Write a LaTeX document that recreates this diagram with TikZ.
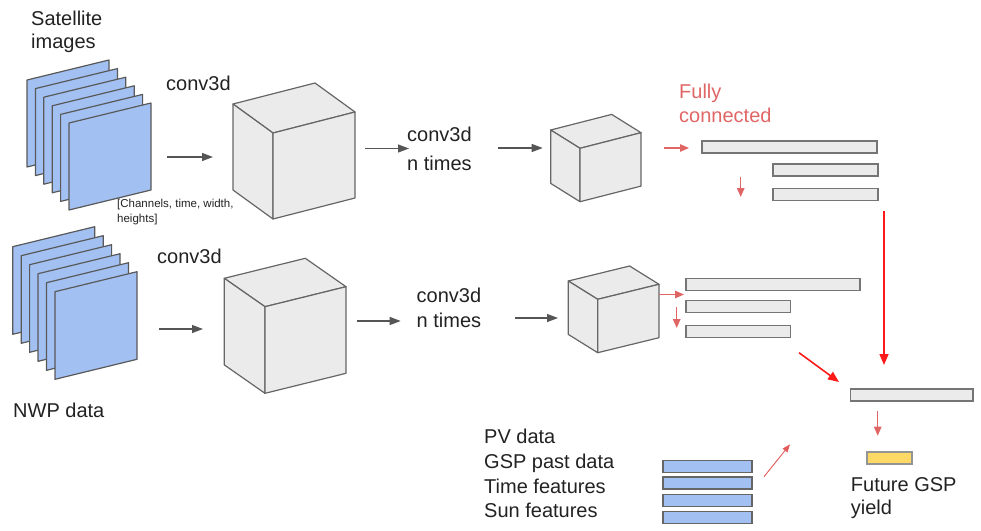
\documentclass[tikz,border=0pt]{standalone}
\usepackage{fontspec}
\setmainfont{Liberation Sans}
\usetikzlibrary{arrows.meta}
\definecolor{panelblue}{HTML}{A2C0F2}
\definecolor{edgegray}{HTML}{595959}
\definecolor{cubefill}{HTML}{EBEBEB}
\definecolor{cubeedge}{HTML}{666666}
\definecolor{fcred}{HTML}{E06666}
\definecolor{bigred}{HTML}{FF1A1A}
\definecolor{gspyellow}{HTML}{FFD966}
\definecolor{arrowgray}{HTML}{555555}
\definecolor{txt}{HTML}{222222}
\tikzset{
  panel/.style={fill=panelblue, draw=edgegray, line width=1.2pt, line join=round},
  cubeface/.style={fill=cubefill, draw=cubeedge, line width=1.2pt, line join=round},
  bar/.style={rectangle, fill=cubefill, draw=cubeedge!90, line width=1.4pt, inner sep=0, minimum height=12pt},
  bluebar/.style={rectangle, fill=panelblue, draw=cubeedge, line width=1.4pt, inner sep=0, minimum height=12pt, minimum width=89pt},
  yellowbar/.style={rectangle, fill=gspyellow, draw=cubeedge!70, line width=1.4pt, inner sep=0, minimum height=12pt, minimum width=45pt},
  lbl/.style={font=\fontsize{20}{24}\selectfont, text=txt, inner sep=0, anchor=base west},
  small/.style={font=\fontsize{11.5}{14}\selectfont, text=txt, inner sep=0, anchor=base west},
  darkarrow/.style={draw=arrowgray, line width=1.2pt, -{Triangle[length=11pt,width=8pt]}},
  redarrow/.style={draw=fcred, line width=1.2pt, -{Triangle[length=9pt,width=7.5pt]}},
  bigredarrow/.style={draw=bigred, line width=1.6pt, -{Triangle[length=11pt,width=9pt]}},
  thinredarrow/.style={draw=fcred!90!red, line width=0.9pt, -{Triangle[length=8pt,width=6pt]}},
}
\newcommand\stackpanels[5]{%
  \foreach \i in {0,...,5} {
    \filldraw[panel] ({#1+#3*\i},{#2+#4*\i}) -- ++(82,-20) -- ++(0,#5) -- ++(-82,20) -- cycle;
  }}
\newcommand\drawcube[7]{%
  \filldraw[cubeface] (#1,#2) -- ++(#6,#7) -- ++(#3,-#4) -- ({#1+#3},{#2-#4}) -- cycle;
  \filldraw[cubeface] (#1,#2) -- ++(#6,#7) -- ++(0,#5) -- ({#1},{#2+#5}) -- cycle;
  \filldraw[cubeface] (#1,#2) -- ({#1+#3},{#2-#4}) -- ++(0,#5) -- ({#1},{#2+#5}) -- cycle;
}
\begin{document}
\begin{tikzpicture}[x=1pt, y=-1pt]
\useasboundingbox (0,0) rectangle (981,530);

% ---------- satellite branch ----------
\node[lbl] (sat1) at (31,25) {Satellite};
\node[lbl] (sat2) at (31,48) {images};
\stackpanels{27}{80}{8.4}{8.6}{87}
\node[small] (dim1) at (117,207) {[Channels, time, width,};
\node[small] (dim2) at (117,222) {heights]};
\node[lbl] (convA) at (166,90) {conv3d};
\coordinate (a1s) at (167,157); \coordinate (a1e) at (213,157);
\draw[darkarrow] (a1s) -- (a1e);
\drawcube{273}{133}{82}{21}{86}{-40}{-29}
\coordinate (a2s) at (365,148.5); \coordinate (a2e) at (409,148.5);
\draw[darkarrow] (a2s) -- (a2e);
\node[lbl] (convAn1) at (407,141.7) {conv3d};
\node[lbl] (convAn2) at (407,170) {n times};
\coordinate (a3s) at (497.7,148); \coordinate (a3e) at (542.7,148);
\draw[darkarrow] (a3s) -- (a3e);
\drawcube{580}{148.3}{61}{15.6}{53.4}{-29.3}{-18.3}
\node[lbl, text=fcred] (fc1) at (679,98) {Fully};
\node[lbl, text=fcred] (fc2) at (679,122) {connected};
\coordinate (r1s) at (664,148); \coordinate (r1e) at (689,148);
\draw[redarrow] (r1s) -- (r1e);
\node[bar, minimum width=175pt] (fcA1) at (789.5,147) {};
\node[bar, minimum width=105pt] (fcA2) at (825.5,170) {};
\node[bar, minimum width=105pt] (fcA3) at (825.5,194.3) {};
\coordinate (r2s) at (740.7,177); \coordinate (r2e) at (740.7,197);
\draw[redarrow] (r2s) -- (r2e);

% ---------- NWP branch ----------
\stackpanels{12.7}{246.7}{8.46}{9}{87.6}
\node[lbl] (nwp) at (13,417) {NWP data};
\node[lbl] (convB) at (157,263) {conv3d};
\coordinate (b1s) at (159,329); \coordinate (b1e) at (203,329);
\draw[darkarrow] (b1s) -- (b1e);
\drawcube{265}{306.7}{81}{20}{86.6}{-40.7}{-28.4}
\coordinate (b2s) at (356.7,321); \coordinate (b2e) at (400.7,321);
\draw[darkarrow] (b2s) -- (b2e);
\node[lbl] (convBn1) at (416.5,302.3) {conv3d};
\node[lbl] (convBn2) at (416.5,327.3) {n times};
\coordinate (b3s) at (515,318); \coordinate (b3e) at (558,318);
\draw[darkarrow] (b3s) -- (b3e);
\drawcube{597.7}{299.3}{61.3}{15}{53.4}{-29.4}{-18.3}
\coordinate (r3s) at (659,294.5); \coordinate (r3e) at (684,294.5);
\draw[redarrow] (r3s) -- (r3e);
\node[bar, minimum width=174pt] (fcB1) at (773,284.2) {};
\node[bar, minimum width=104.7pt] (fcB2) at (738.3,306.7) {};
\node[bar, minimum width=104.7pt] (fcB3) at (738.3,331.7) {};
\coordinate (r4s) at (676.7,307); \coordinate (r4e) at (676.7,328);
\draw[redarrow] (r4s) -- (r4e);

% ---------- merge ----------
\coordinate (R1s) at (884,210.7); \coordinate (R1e) at (884,365);
\draw[bigredarrow] (R1s) -- (R1e);
\coordinate (R2s) at (799,352.7); \coordinate (R2e) at (839,382);
\draw[bigredarrow] (R2s) -- (R2e);
\node[bar, minimum width=122.3pt] (final) at (911.8,395) {};
\coordinate (r5s) at (877.7,410.7); \coordinate (r5e) at (877.7,435.7);
\draw[redarrow] (r5s) -- (r5e);
\node[yellowbar] (gsp) at (889.5,458) {};
\node[lbl] (fut1) at (850.7,491) {Future GSP};
\node[lbl] (fut2) at (850.7,514) {yield};

% ---------- extra features ----------
\node[lbl] (pv) at (484,443.3) {PV data};
\node[lbl] (gsppast) at (484,468.3) {GSP past data};
\node[lbl] (timef) at (484,493.3) {Time features};
\node[lbl] (sunf) at (484,517.7) {Sun features};
\node[bluebar] (bb1) at (707.5,466.2) {};
\node[bluebar] (bb2) at (707.5,483) {};
\node[bluebar] (bb3) at (707.5,500.3) {};
\node[bluebar] (bb4) at (707.5,517.7) {};
\coordinate (R3s) at (764,476.7); \coordinate (R3e) at (790,444.3);
\draw[thinredarrow] (R3s) -- (R3e);
\end{tikzpicture}
\end{document}
